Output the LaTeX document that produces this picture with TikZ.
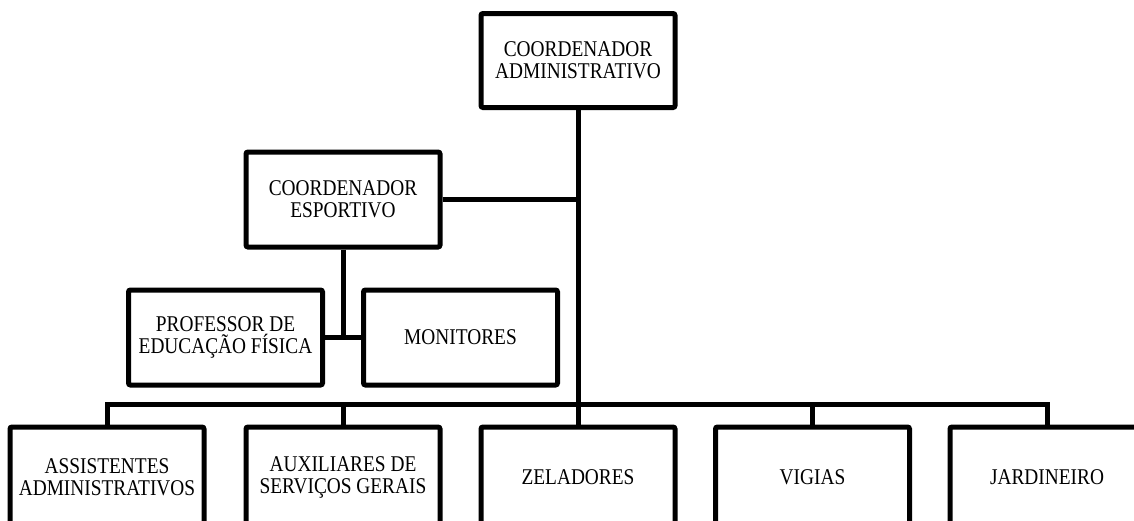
\documentclass[tikz,border=0pt]{standalone}
\usepackage{fontspec}
\setmainfont{Liberation Serif}[FakeStretch=0.86]
\usetikzlibrary{positioning}

\tikzset{
  cargo/.style={draw=black,
                line width=5pt,
                rounded corners=2pt,
                fill=white,
                minimum width=194pt,
                minimum height=94pt,
                inner sep=0pt,
                align=center,
                font=\fontsize{22.5}{22}\selectfont},
  cargobase/.style={cargo,
                minimum height=100pt},
  ligacao/.style={draw=black,
                line width=5pt}
}

\begin{document}
\begin{tikzpicture}[x=1pt,y=-1pt]
    \useasboundingbox (0,0) rectangle (1134,520);
    \clip (0,0) rectangle (1134,520);
%   topo
    \node[cargo] (adm) at (578,60.5) {COORDENADOR\\ADMINISTRATIVO};
%   esportes
    \node[cargo, minimum height=95pt] (esp) at (343,199.5) {COORDENADOR\\ESPORTIVO};
    \node[cargo, minimum height=95pt] (prof) at (225.5,337.5) {PROFESSOR DE\\EDUCAÇÃO FÍSICA};
    \node[cargo, minimum height=95pt] (mon) at (460.5,337.5) {MONITORES};
%   linha de baixo
    \node[cargobase] (ass) at (107,477) {ASSISTENTES\\ADMINISTRATIVOS};
    \node[cargobase] (aux) at (343,477) {AUXILIARES DE\\SERVIÇOS GERAIS};
    \node[cargobase] (zel) at (578,477) {ZELADORES};
    \node[cargobase] (vig) at (812.5,477) {VIGIAS};
    \node[cargobase] (jar) at (1047,477) {JARDINEIRO};

    \draw[ligacao] (adm.south) -- (zel.north);
    \draw[ligacao] (esp.east) -- (esp.east -| adm.south);
    \draw[ligacao] (esp.south) -- (esp.south |- prof.east);
    \draw[ligacao] (prof.east) -- (mon.west);
    \draw[ligacao] (ass.north) -- ++(0,-20) -| (jar.north);
    \draw[ligacao] (aux.north) -- ++(0,-20);
    \draw[ligacao] (vig.north) -- ++(0,-20);
\end{tikzpicture}
\end{document}
